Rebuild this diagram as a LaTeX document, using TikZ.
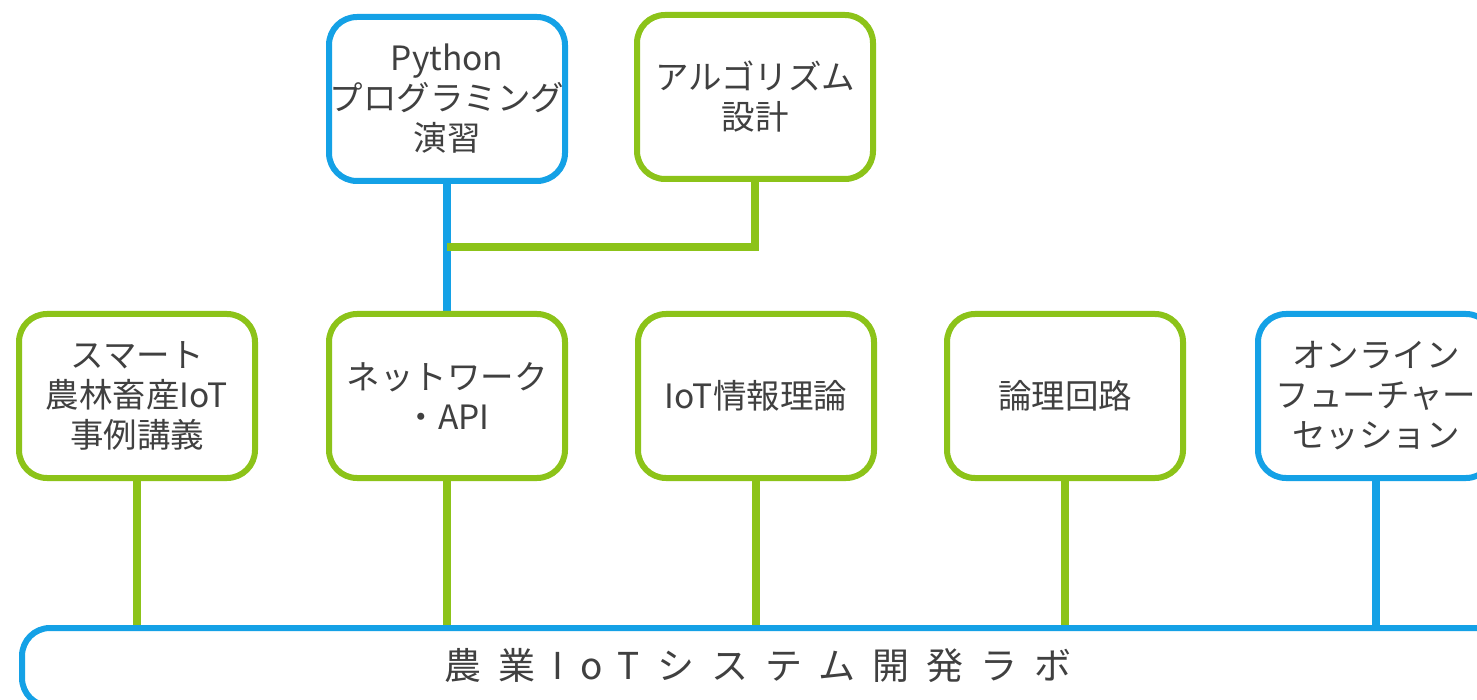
\documentclass[tikz,border=0pt]{standalone}
\usepackage{fontspec}
\usetikzlibrary{calc}
\setmainfont{Noto Sans CJK JP}
\definecolor{lblue}{RGB}{20,161,230}
\definecolor{lgreen}{RGB}{140,195,25}
\definecolor{txt}{RGB}{64,64,64}
\pgfdeclarelayer{bg}
\pgfsetlayers{bg,main}
\begin{document}
\begin{tikzpicture}[x=1pt,y=-1pt,
  box/.style={draw, line width=6pt, rounded corners=28pt, fill=white,
    minimum width=236pt, minimum height=164pt, align=center, text=txt,
    font=\fontsize{33.5}{40}\selectfont, inner sep=0pt},
  bbox/.style={box, draw=lblue},
  gbox/.style={box, draw=lgreen},
  gline/.style={draw=lgreen, line width=8pt},
  bline/.style={draw=lblue, line width=8pt}]
\useasboundingbox (0,0) rectangle (1477,700);
\clip (0,0) rectangle (1477,700);
% top row
\node[bbox] (py) at (447,99) {Python\\プログラミング\\演習};
\node[gbox] (alg) at (755,97) {アルゴリズム\\設計};
% middle row
\node[gbox] (n1) at (137,396) {スマート\\農林畜産IoT\\事例講義};
\node[gbox] (n2) at (447,396) {ネットワーク\\・API};
\node[gbox] (n3) at (756,396) {IoT情報理論};
\node[gbox] (n4) at (1065,396) {論理回路};
\node[bbox] (n5) at (1376,396) {オンライン\\フューチャー\\セッション};
% bottom bar
\node[draw=lblue, line width=6pt, rounded corners=28pt, fill=white,
  minimum width=1500pt, minimum height=78pt, anchor=north west, inner sep=0pt]
  (bar) at (19,625) {};
\node[text=txt, font=\fontsize{37}{40}\selectfont\addfontfeature{LetterSpace=46}]
  (bartext) at (758,666) {農業IoTシステム開発ラボ};
% connectors
\begin{pgfonlayer}{bg}
\fill[white] (0,0) rectangle (1477,700);
\coordinate (jn) at ($(py.south)!0.5!(n2.north)$);
\draw[bline] (py.south) -- (n2.north);
\draw[gline] (alg.south) |- (jn);
\draw[gline] (n1.south) -- (n1.south |- bar.north);
\draw[gline] (n2.south) -- (n2.south |- bar.north);
\draw[gline] (n3.south) -- (n3.south |- bar.north);
\draw[gline] (n4.south) -- (n4.south |- bar.north);
\draw[bline] (n5.south) -- (n5.south |- bar.north);
\end{pgfonlayer}
\end{tikzpicture}
\end{document}
